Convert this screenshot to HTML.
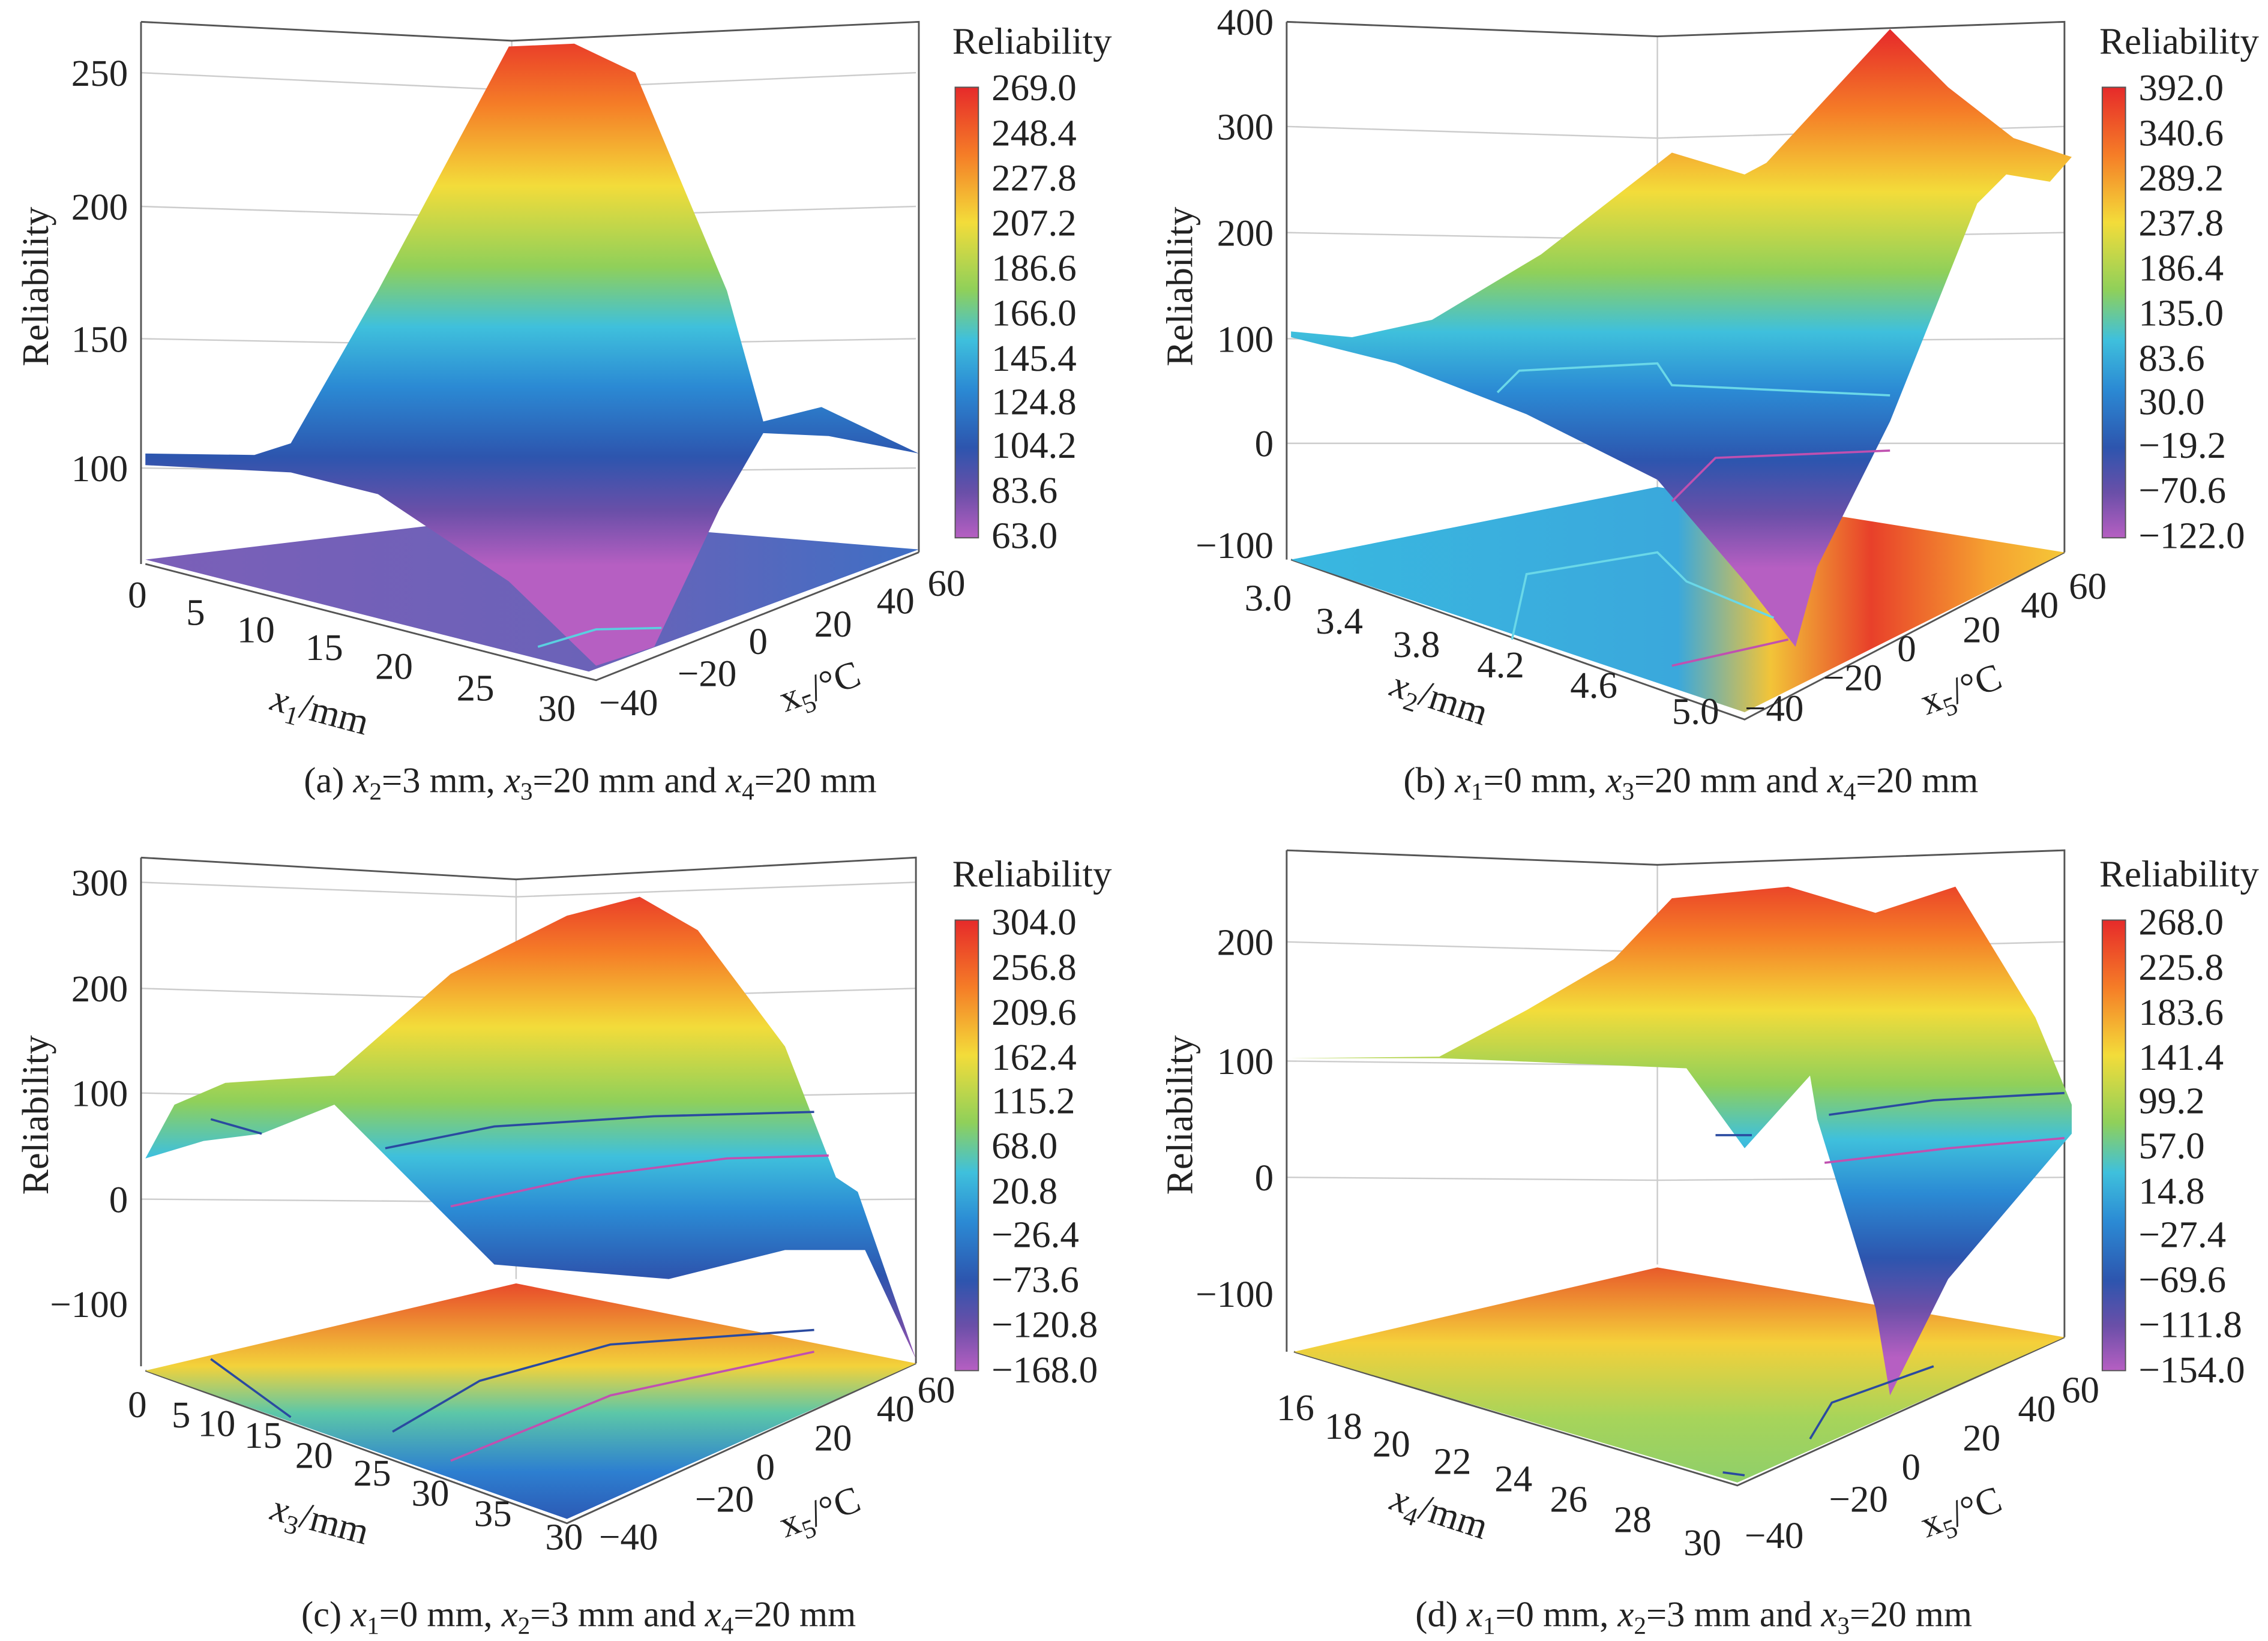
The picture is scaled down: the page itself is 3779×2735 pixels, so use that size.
<!DOCTYPE html>
<html><head><meta charset="utf-8"><style>
html,body{margin:0;padding:0;background:#fff}
svg{display:block}
text{font-family:"Liberation Serif",serif;fill:#222}
</style></head><body>
<svg width="3779" height="2735" viewBox="0 0 1560 1129" xmlns="http://www.w3.org/2000/svg">
<defs>
<linearGradient id="rb" x1="0" y1="0" x2="0" y2="1">
<stop offset="0" stop-color="#e62a2a"/><stop offset="0.15" stop-color="#f57d27"/>
<stop offset="0.3" stop-color="#f3dc3a"/><stop offset="0.45" stop-color="#8fd05a"/>
<stop offset="0.56" stop-color="#3fc0dc"/><stop offset="0.67" stop-color="#2b8ad4"/>
<stop offset="0.8" stop-color="#2d55ae"/><stop offset="0.9" stop-color="#6a4fa8"/>
<stop offset="1" stop-color="#b65fc2"/></linearGradient>
<linearGradient id="ra" href="#rb" gradientUnits="userSpaceOnUse" x1="0" y1="16" x2="0" y2="389"/>
<linearGradient id="rbb" href="#rb" gradientUnits="userSpaceOnUse" x1="0" y1="21" x2="0" y2="391"/>
<linearGradient id="rc" href="#rb" gradientUnits="userSpaceOnUse" x1="0" y1="604" x2="0" y2="946"/>
<linearGradient id="rd" href="#rb" gradientUnits="userSpaceOnUse" x1="0" y1="593" x2="0" y2="934"/>
<linearGradient id="fa" x1="0" y1="0" x2="1" y2="0"><stop offset="0" stop-color="#7b5fb8"/><stop offset="0.6" stop-color="#6a62b8"/><stop offset="1" stop-color="#3f6fc4"/></linearGradient>
<linearGradient id="fb" x1="0" y1="0" x2="1" y2="0"><stop offset="0" stop-color="#39b8e0"/><stop offset="0.5" stop-color="#3aa8dc"/><stop offset="0.62" stop-color="#f2c438"/><stop offset="0.75" stop-color="#e8402a"/><stop offset="0.9" stop-color="#f5a030"/><stop offset="1" stop-color="#f5c838"/></linearGradient>
<linearGradient id="fc" x1="0" y1="0" x2="0" y2="1"><stop offset="0" stop-color="#e84a2a"/><stop offset="0.35" stop-color="#f3d23a"/><stop offset="0.55" stop-color="#5cc7a8"/><stop offset="0.8" stop-color="#2d7fd0"/><stop offset="1" stop-color="#2c5ab5"/></linearGradient>
<linearGradient id="fd" x1="0" y1="0" x2="0" y2="1"><stop offset="0" stop-color="#e85a2a"/><stop offset="0.35" stop-color="#f5d03a"/><stop offset="0.7" stop-color="#a7d45a"/><stop offset="1" stop-color="#8fcf6a"/></linearGradient>
</defs>
<g stroke="#ccc" stroke-width="1" fill="none">
<path d="M97 50L352 62M97 142L352 150M97 233L352 238M97 322L352 325M352 28V360M630 50L352 62M630 142L352 150M630 233L352 238M630 322L352 325"/>
<path d="M885 87L1140 95M885 160L1140 165M885 233L1140 235M885 305L1140 305M1140 25V365M1420 87L1140 95M1420 160L1140 165M1420 233L1140 235M1420 305L1140 305"/>
<path d="M97 607L355 617M97 680L355 688M97 752L355 757M97 825L355 827M355 605V880M630 607L355 617M630 680L355 688M630 752L355 757M630 825L355 827"/>
<path d="M885 648L1140 655M885 730L1140 733M885 810L1140 812M1140 595V870M1420 648L1140 655M1420 730L1140 733M1420 810L1140 812"/>
</g>
<g stroke="#555" stroke-width="1.2" fill="none">
<path d="M97 15V388M97 15L352 28L632 15V380M100 388L410 468L632 380"/>
<path d="M885 15V385M885 15L1140 25L1420 15V380M888 385L1200 495L1420 380"/>
<path d="M97 590V940M97 590L355 605L630 590V938M100 943L390 1048L630 938"/>
<path d="M885 585V930M885 585L1140 595L1420 585V920M890 930L1195 1022L1420 920"/>
</g>
<polygon points="100,385 405,462 632,378 352,355" fill="url(#fa)"/>
<polygon points="888,385 1200,490 1420,380 1140,335" fill="url(#fb)"/>
<polygon points="100,943 390,1045 630,938 355,883" fill="url(#fc)"/>
<polygon points="890,930 1195,1020 1420,920 1140,872" fill="url(#fd)"/>
<polygon points="100,312 175,313 200,305 260,200 350,32 395,30 437,50 500,200 525,290 565,280 632,312 570,300 525,298 495,350 450,445 410,458 350,400 260,340 200,325 100,320" fill="url(#ra)"/>
<polygon points="888,228 930,232 985,220 1060,175 1150,105 1200,120 1215,112 1300,20 1340,60 1385,95 1425,108 1410,125 1380,120 1360,140 1300,290 1250,390 1235,445 1200,400 1140,330 1050,285 960,250 888,232" fill="url(#rbb)"/>
<polygon points="100,797 120,760 155,745 230,740 310,670 390,630 440,617 480,640 540,720 575,810 590,820 630,935 595,860 540,860 460,880 340,870 260,790 230,760 180,780 140,785" fill="url(#rc)"/>
<polygon points="888,728 990,727 1050,695 1110,660 1150,618 1230,610 1290,628 1345,610 1400,700 1425,760 1425,780 1340,880 1300,960 1290,900 1250,770 1245,740 1200,790 1160,735 1040,730 990,728" fill="url(#rd)"/>
<g fill="none" stroke-width="1.5">
<path d="M370 445L410 433L455 432" stroke="#5ad0e0"/>
<path d="M1030 270L1045 255L1140 250L1150 265L1300 272" stroke="#6ad8e8"/>
<path d="M1150 345L1180 315L1300 310" stroke="#c050b0"/>
<path d="M1040 440L1050 395L1140 380L1160 400L1220 425" stroke="#6ad8e8"/>
<path d="M1150 458L1230 440" stroke="#c050b0"/>
<path d="M145 770L180 780M265 790L340 775L450 768L560 765" stroke="#2a4aa0"/>
<path d="M310 830L400 810L500 797L570 795" stroke="#c050b0"/>
<path d="M145 935L200 975M270 985L330 950L420 925L560 915" stroke="#2a4aa0"/>
<path d="M310 1005L420 960L560 930" stroke="#c050b0"/>
<path d="M1180 781L1205 781M1258 767L1330 757L1420 752" stroke="#2a4aa0"/>
<path d="M1255 800L1340 790L1420 783" stroke="#c050b0"/>
<path d="M1245 990L1260 965L1330 940M1185 1013L1200 1015" stroke="#2a4aa0"/>
</g>
<rect x="657" y="60" width="16" height="310" fill="url(#rb)" stroke="#555" stroke-width="0.8"/>
<rect x="1446" y="60" width="16" height="310" fill="url(#rb)" stroke="#555" stroke-width="0.8"/>
<rect x="657" y="633" width="16" height="310" fill="url(#rb)" stroke="#555" stroke-width="0.8"/>
<rect x="1446" y="633" width="16" height="310" fill="url(#rb)" stroke="#555" stroke-width="0.8"/>
<g font-size="26">
<text x="655" y="37">Reliability</text><text x="1444" y="37">Reliability</text>
<text x="655" y="610">Reliability</text><text x="1444" y="610">Reliability</text>
<g transform="translate(682,0)"><text y="69">269.0</text><text y="100">248.4</text><text y="131">227.8</text><text y="162">207.2</text><text y="193">186.6</text><text y="224">166.0</text><text y="255">145.4</text><text y="285">124.8</text><text y="315">104.2</text><text y="346">83.6</text><text y="377">63.0</text></g>
<g transform="translate(1471,0)"><text y="69">392.0</text><text y="100">340.6</text><text y="131">289.2</text><text y="162">237.8</text><text y="193">186.4</text><text y="224">135.0</text><text y="255">83.6</text><text y="285">30.0</text><text y="315">−19.2</text><text y="346">−70.6</text><text y="377">−122.0</text></g>
<g transform="translate(682,0)"><text y="643">304.0</text><text y="674">256.8</text><text y="705">209.6</text><text y="736">162.4</text><text y="766">115.2</text><text y="797">68.0</text><text y="828">20.8</text><text y="858">−26.4</text><text y="889">−73.6</text><text y="920">−120.8</text><text y="951">−168.0</text></g>
<g transform="translate(1471,0)"><text y="643">268.0</text><text y="674">225.8</text><text y="705">183.6</text><text y="736">141.4</text><text y="766">99.2</text><text y="797">57.0</text><text y="828">14.8</text><text y="858">−27.4</text><text y="889">−69.6</text><text y="920">−111.8</text><text y="951">−154.0</text></g>
<g text-anchor="end">
<text x="88" y="59">250</text><text x="88" y="151">200</text><text x="88" y="242">150</text><text x="88" y="331">100</text>
<text x="876" y="24">400</text><text x="876" y="96">300</text><text x="876" y="169">200</text><text x="876" y="242">100</text><text x="876" y="314">0</text><text x="876" y="384">−100</text>
<text x="88" y="616">300</text><text x="88" y="689">200</text><text x="88" y="761">100</text><text x="88" y="834">0</text><text x="88" y="906">−100</text>
<text x="876" y="657">200</text><text x="876" y="739">100</text><text x="876" y="819">0</text><text x="876" y="899">−100</text>
</g>
<text transform="translate(33,252) rotate(-90)">Reliability</text>
<text transform="translate(820,252) rotate(-90)">Reliability</text>
<text transform="translate(33,822) rotate(-90)">Reliability</text>
<text transform="translate(820,822) rotate(-90)">Reliability</text>
<text x="88" y="418">0</text><text x="128" y="430">5</text><text x="163" y="442">10</text><text x="210" y="454">15</text><text x="258" y="467">20</text><text x="314" y="482">25</text><text x="370" y="496">30</text>
<text x="412" y="492">−40</text><text x="466" y="472">−20</text><text x="515" y="450">0</text><text x="560" y="438">20</text><text x="603" y="422">40</text><text x="638" y="410">60</text>
<text x="856" y="420">3.0</text><text x="905" y="436">3.4</text><text x="958" y="452">3.8</text><text x="1016" y="466">4.2</text><text x="1080" y="480">4.6</text><text x="1150" y="498">5.0</text>
<text x="1200" y="496">−40</text><text x="1254" y="475">−20</text><text x="1305" y="455">0</text><text x="1350" y="442">20</text><text x="1390" y="425">40</text><text x="1423" y="412">60</text>
<text x="88" y="975">0</text><text x="118" y="982">5</text><text x="136" y="988">10</text><text x="168" y="996">15</text><text x="203" y="1010">20</text><text x="243" y="1022">25</text><text x="283" y="1036">30</text><text x="326" y="1050">35</text><text x="375" y="1066">30</text>
<text x="412" y="1066">−40</text><text x="478" y="1040">−20</text><text x="520" y="1018">0</text><text x="560" y="998">20</text><text x="603" y="978">40</text><text x="631" y="965">60</text>
<text x="878" y="977">16</text><text x="911" y="990">18</text><text x="944" y="1002">20</text><text x="986" y="1014">22</text><text x="1028" y="1026">24</text><text x="1066" y="1040">26</text><text x="1110" y="1054">28</text><text x="1158" y="1070">30</text>
<text x="1200" y="1065">−40</text><text x="1258" y="1040">−20</text><text x="1308" y="1018">0</text><text x="1350" y="998">20</text><text x="1388" y="978">40</text><text x="1418" y="965">60</text>
<text x="185" y="488" transform="rotate(15 185 488)"><tspan font-style="italic">x</tspan><tspan font-size="18" dy="6">1</tspan><tspan dy="-6">/mm</tspan></text>
<text x="955" y="478" transform="rotate(18 955 478)"><tspan font-style="italic">x</tspan><tspan font-size="18" dy="6">2</tspan><tspan dy="-6">/mm</tspan></text>
<text x="185" y="1045" transform="rotate(15 185 1045)"><tspan font-style="italic">x</tspan><tspan font-size="18" dy="6">3</tspan><tspan dy="-6">/mm</tspan></text>
<text x="955" y="1038" transform="rotate(18 955 1038)"><tspan font-style="italic">x</tspan><tspan font-size="18" dy="6">4</tspan><tspan dy="-6">/mm</tspan></text>
<text x="540" y="490" transform="rotate(-20 540 490)">x<tspan font-size="18" dy="6">5</tspan><tspan dy="-6">/°C</tspan></text>
<text x="1325" y="492" transform="rotate(-20 1325 492)">x<tspan font-size="18" dy="6">5</tspan><tspan dy="-6">/°C</tspan></text>
<text x="540" y="1058" transform="rotate(-20 540 1058)">x<tspan font-size="18" dy="6">5</tspan><tspan dy="-6">/°C</tspan></text>
<text x="1325" y="1058" transform="rotate(-20 1325 1058)">x<tspan font-size="18" dy="6">5</tspan><tspan dy="-6">/°C</tspan></text>
<g font-size="25">
<text x="406" y="545" text-anchor="middle">(a) <tspan font-style="italic">x</tspan><tspan font-size="17" dy="5">2</tspan><tspan dy="-5">=3 mm, </tspan><tspan font-style="italic">x</tspan><tspan font-size="17" dy="5">3</tspan><tspan dy="-5">=20 mm and </tspan><tspan font-style="italic">x</tspan><tspan font-size="17" dy="5">4</tspan><tspan dy="-5">=20 mm</tspan></text>
<text x="1163" y="545" text-anchor="middle">(b) <tspan font-style="italic">x</tspan><tspan font-size="17" dy="5">1</tspan><tspan dy="-5">=0 mm, </tspan><tspan font-style="italic">x</tspan><tspan font-size="17" dy="5">3</tspan><tspan dy="-5">=20 mm and </tspan><tspan font-style="italic">x</tspan><tspan font-size="17" dy="5">4</tspan><tspan dy="-5">=20 mm</tspan></text>
<text x="398" y="1119" text-anchor="middle">(c) <tspan font-style="italic">x</tspan><tspan font-size="17" dy="5">1</tspan><tspan dy="-5">=0 mm, </tspan><tspan font-style="italic">x</tspan><tspan font-size="17" dy="5">2</tspan><tspan dy="-5">=3 mm and </tspan><tspan font-style="italic">x</tspan><tspan font-size="17" dy="5">4</tspan><tspan dy="-5">=20 mm</tspan></text>
<text x="1165" y="1119" text-anchor="middle">(d) <tspan font-style="italic">x</tspan><tspan font-size="17" dy="5">1</tspan><tspan dy="-5">=0 mm, </tspan><tspan font-style="italic">x</tspan><tspan font-size="17" dy="5">2</tspan><tspan dy="-5">=3 mm and </tspan><tspan font-style="italic">x</tspan><tspan font-size="17" dy="5">3</tspan><tspan dy="-5">=20 mm</tspan></text>
</g>
</g>
</svg>
</body></html>
